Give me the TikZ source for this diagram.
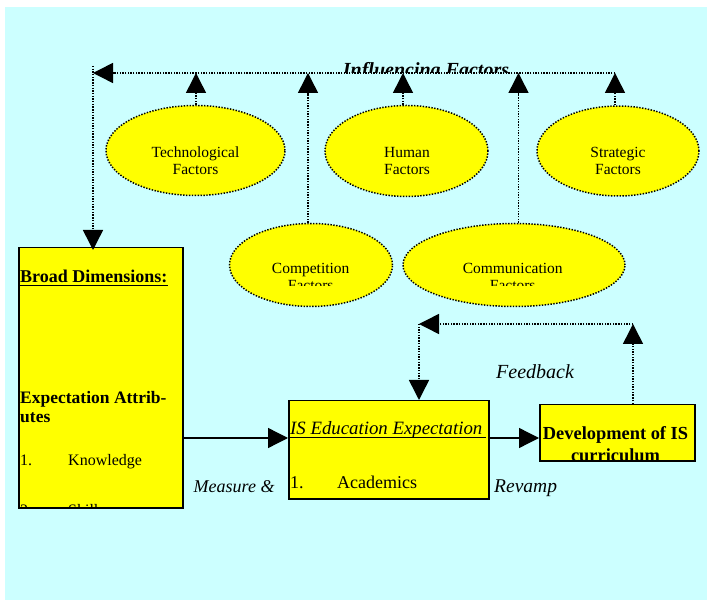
\documentclass[tikz,border=0pt]{standalone}
\usepackage{fontspec}
\setmainfont{Liberation Serif}
\usetikzlibrary{arrows.meta,shapes.geometric}
\definecolor{bgcyan}{HTML}{CCFFFF}
\definecolor{ylw}{HTML}{FFFF00}
\begin{document}
\begin{tikzpicture}[x=1pt,y=-1pt,
  dots/.style={line width=1.5pt,dash pattern=on 1.4pt off 1.3pt},
  tri/.style={-{Triangle[length=20pt,width=20pt]}},
  ell/.style={ellipse,draw,line width=1.5pt,dash pattern=on 1.4pt off 1.5pt,fill=ylw,inner sep=0pt},
  box/.style={rectangle,draw,line width=1.5pt,fill=ylw,inner sep=0pt,anchor=north west},
  etext/.style={anchor=base,inner sep=0pt,font=\fontsize{15.5}{17}\selectfont},
  txt/.style={anchor=base west,inner sep=0pt},
  lbl/.style={anchor=base west,inner sep=0pt,font=\itshape\fontsize{18}{21}\selectfont},
  solidarrow/.style={tri,line width=1.3pt}
]
\useasboundingbox (0,0) rectangle (707,601);
\fill[white] (0,0) rectangle (707,601);
\fill[bgcyan] (5,7) rectangle (707,600);

% boxes
\node[box,minimum width=164pt,minimum height=260pt] (bd) at (18,247) {};
\node[box,minimum width=200pt,minimum height=98pt] (ise) at (288,400) {};
\node[box,minimum width=155pt,minimum height=56pt] (dev) at (539,404) {};

% ellipses
\node[ell,minimum width=179pt,minimum height=90pt] (tech) at (195.5,150.5) {};
\node[ell,minimum width=163pt,minimum height=91pt] (hum) at (406.5,151) {};
\node[ell,minimum width=162pt,minimum height=90pt] (strat) at (618,151) {};
\node[ell,minimum width=163pt,minimum height=83pt] (comp) at (311,265) {};
\node[ell,minimum width=222pt,minimum height=83pt] (comm) at (514,265) {};

% ellipse texts
\node[etext] (techt1) at (195.5,157.3) {Technological};
\node[etext] (techt2) at (195.5,174.3) {Factors};
\node[etext] (humt1) at (407,157.3) {Human};
\node[etext] (humt2) at (407,174.3) {Factors};
\node[etext] (stratt1) at (618,157.3) {Strategic};
\node[etext] (stratt2) at (618,174.3) {Factors};
\node[etext] (compt1) at (310.7,273.5) {Competition};
\node[etext] (commt1) at (512.7,273.5) {Communication};
\begin{scope}
  \clip (200,200) rectangle (650,285.5);
  \node[etext] (compt2) at (310.7,290.5) {Factors};
  \node[etext] (commt2) at (512.7,290.5) {Factors};
\end{scope}

% influencing factors
\begin{scope}
  \clip (300,50) rectangle (560,72.5);
  \node[anchor=base,inner sep=0pt,font=\bfseries\itshape\fontsize{20}{24}\selectfont] (inf) at (426,76.8) {Influencing Factors};
\end{scope}

\coordinate (topL) at (93,73);
\coordinate (topR) at (615,73);
\coordinate (topLs) at (93,66);
\coordinate (techtop) at ([xshift=0.5pt]tech.north);
\coordinate (humtop) at ([xshift=-3.5pt]hum.north);
\coordinate (strattop) at ([xshift=-3pt]strat.north);
\coordinate (comptop) at ([xshift=-3pt]comp.north);
\coordinate (commtop) at ([xshift=4.5pt]comm.north);

\draw[dots,tri] (techtop) -- (techtop |- topL);
\draw[dots,tri] (humtop) -- (humtop |- topL);
\draw[dots,tri] (strattop) -- (strattop |- topL);
\draw[dots,tri] (comptop) -- (comptop |- topL);
\draw[dots,tri] (commtop) -- (commtop |- topL);
\draw[dots,tri] (topR) -- (topL);
\draw[dots,tri,shorten >=-3pt] (topLs) -- (topLs |- bd.north);

% solid arrows
\coordinate (mid) at (0,438);
\draw[solidarrow] (bd.east |- mid) -- (ise.west |- mid);
\draw[solidarrow] (ise.east |- mid) -- (dev.west |- mid);

% feedback loop
\coordinate (fbR) at (633,324);
\coordinate (fbL) at (419,324);
\draw[dots,tri] (fbR |- dev.north) -- (fbR);
\draw[dots,tri] (fbR) -- (fbL);
\draw[dots,tri] (fbL) -- (fbL |- ise.north);

% left box texts
\begin{scope}
  \clip (19,248) rectangle (181,506);
  \node[txt,font=\bfseries\fontsize{18}{21}\selectfont] (bdt) at (20,282.7) {Broad Dimensions:};
  \node[txt,font=\bfseries\fontsize{17.5}{20}\selectfont] (ea1) at (20,404) {Expectation Attrib-};
  \node[txt,font=\bfseries\fontsize{17.5}{20}\selectfont] (ea2) at (20,422.5) {utes};
  \node[txt,font=\fontsize{16}{19}\selectfont] (n1) at (20,465.7) {1.};
  \node[txt,font=\fontsize{16}{19}\selectfont] (kn) at (68,465.7) {Knowledge};
  \node[txt,font=\fontsize{16}{19}\selectfont] (n2) at (20,515) {2.};
  \node[txt,font=\fontsize{16}{19}\selectfont] (sk) at (68,515) {Skills};
\end{scope}
\draw[line width=1pt] ([yshift=-2.5pt]bdt.base west) -- ([yshift=-2.5pt]bdt.base east);

% IS education box texts
\node[txt,font=\itshape\fontsize{18.8}{22}\selectfont] (iset) at (290,435) {IS Education Expectation};
\draw[line width=1pt] ([yshift=-3pt]iset.base west) -- ([xshift=3pt,yshift=-3pt]iset.base east);
\node[txt,font=\fontsize{18}{21}\selectfont] (n1b) at (290,488) {1.};
\node[txt,font=\fontsize{18}{21}\selectfont] (acad) at (337,488) {Academics};

% development box texts
\begin{scope}
  \clip (540,405) rectangle (693,459);
  \node[anchor=base,inner sep=0pt,font=\bfseries\fontsize{18.4}{21}\selectfont] (devt1) at (615.5,439) {Development of IS};
  \node[anchor=base,inner sep=0pt,font=\bfseries\fontsize{18.4}{21}\selectfont] (devt2) at (615.5,461.5) {curriculum};
\end{scope}

% labels
\node[lbl] (meas) at (193.5,492.5) {Measure \&};
\node[lbl,font=\itshape\fontsize{19.5}{23}\selectfont] (rev) at (494,492.5) {Revamp};
\node[lbl,font=\itshape\fontsize{20}{24}\selectfont] (fb) at (496,379) {Feedback};
\end{tikzpicture}
\end{document}
